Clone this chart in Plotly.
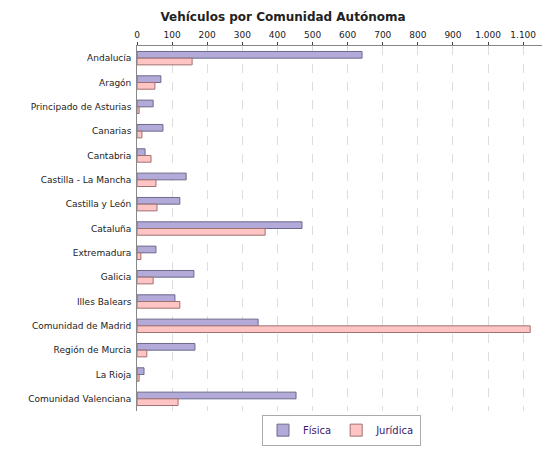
import plotly.graph_objects as go

categories = ["Andalucía","Aragón","Principado de Asturias","Canarias","Cantabria",
              "Castilla - La Mancha","Castilla y León","Cataluña","Extremadura","Galicia",
              "Illes Balears","Comunidad de Madrid","Región de Murcia","La Rioja","Comunidad Valenciana"]
fisica = [641, 68, 46, 74, 23, 140, 122, 470, 54, 162, 108, 345, 165, 20, 453]
juridica = [157, 51, 6, 14, 40, 54, 57, 365, 11, 46, 122, 1120, 28, 6, 117]
tickvals = list(range(0, 1200, 100))
ticktext = ["0","100","200","300","400","500","600","700","800","900","1.000","1.100"]

fig = go.Figure()
fig.add_bar(y=categories, x=fisica, name="Física", orientation="h",
            marker=dict(color="#b3aad9", line=dict(color="#6a6a8a", width=1)))
fig.add_bar(y=categories, x=juridica, name="Jurídica", orientation="h",
            marker=dict(color="#ffc4c4", line=dict(color="#a07070", width=1)))
fig.update_layout(
    width=550, height=450, barmode="group", bargap=0.45, bargroupgap=0.0,
    plot_bgcolor="white", paper_bgcolor="white",
    margin=dict(l=129, r=12, t=38, b=27),
    font=dict(family="DejaVu Sans", size=9, color="#222"),
    title=dict(text="<b>Vehículos por Comunidad Autónoma</b>", x=0.5, y=0.99,
               xanchor="center", yanchor="top", font=dict(size=12)),
    xaxis=dict(side="top", range=[0, 1165], tickvals=tickvals, ticktext=ticktext,
               showgrid=True, gridcolor="#dddddd", griddash="dash", ticks="outside",
               ticklen=3, tickfont=dict(size=9), showline=True, linecolor="#888",
               zeroline=False, automargin=False),
    yaxis=dict(autorange="reversed", ticks="", showline=True, linecolor="#888",
               ticksuffix=" ", tickfont=dict(size=9), automargin=False),
    legend=dict(orientation="h", x=0.5, xanchor="center", y=-0.01, yanchor="top",
                bordercolor="#aaa", borderwidth=1, font=dict(size=10, color="#3a1a6a"),
                itemwidth=30, tracegroupgap=0),
)
fig.write_html("out.html")
